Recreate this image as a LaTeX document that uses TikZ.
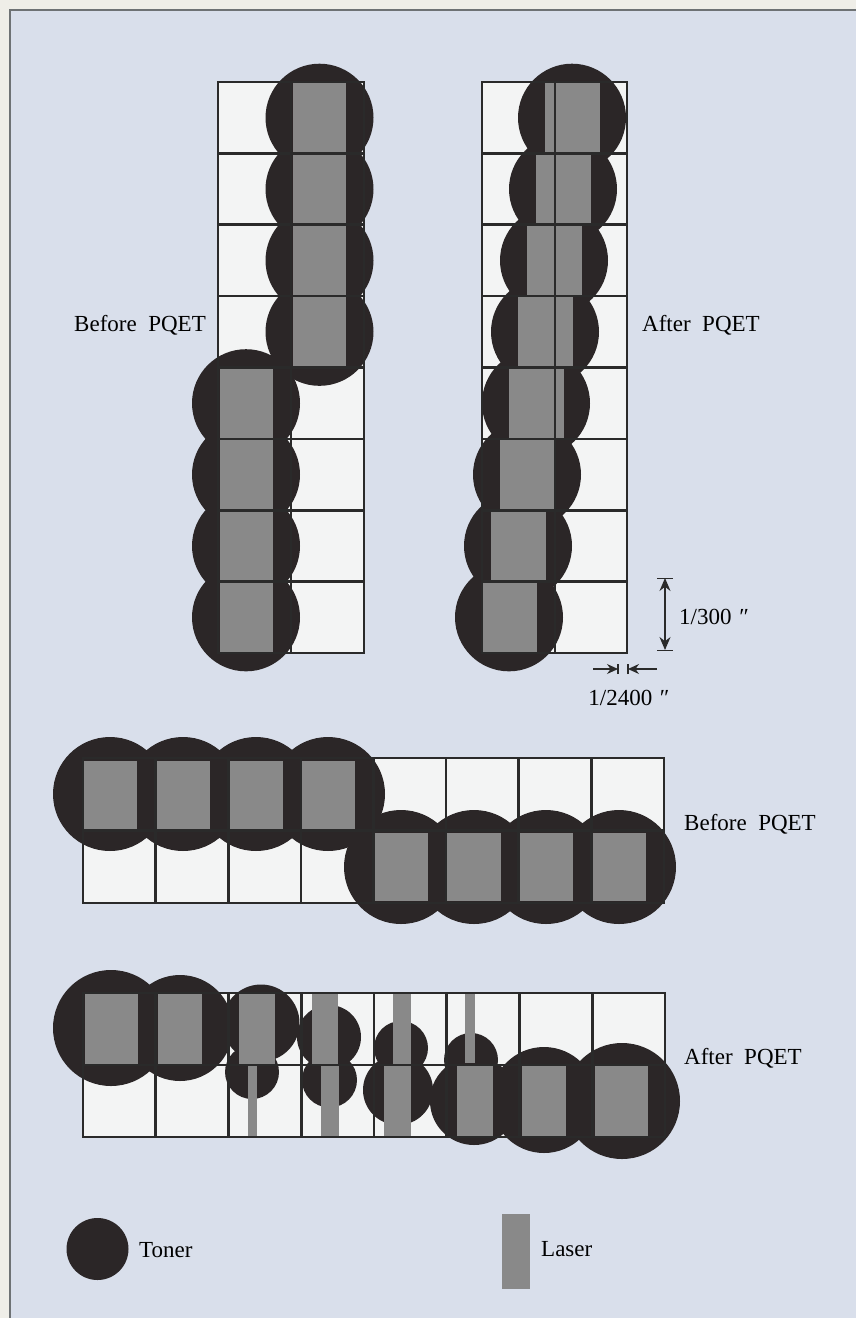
\documentclass[tikz,border=0pt]{standalone}
\usepackage{fontspec}
\setmainfont{Liberation Serif}
\usetikzlibrary{arrows.meta,positioning}
\definecolor{fondo}{HTML}{D9DFEB}
\definecolor{papel}{HTML}{EFEEE8}
\definecolor{marco}{HTML}{6E7274}
\definecolor{celda}{HTML}{F3F4F4}
\definecolor{tonercol}{HTML}{2B2627}
\definecolor{lasercol}{HTML}{898989}
\definecolor{lineacol}{HTML}{2A2A2A}

\begin{document}
\begin{tikzpicture}[x=1pt,y=-1pt,
    toner/.style={fill=tonercol},
    laser/.style={fill=lasercol},
    rejilla/.style={draw=lineacol,line width=2.6pt},
    etiqueta/.style={font=\fontsize{23}{27}\selectfont,inner sep=0pt},
    cota/.style={draw=lineacol,line width=1.1pt}]
  \useasboundingbox (0,0) rectangle (856,1318);
  \def\fila{71.375}

  % Fondo y marco
  \fill[papel] (0,0) rectangle (856,1318);
  \fill[fondo] (10,10) rectangle (856,1318);
  \draw[marco,line width=1.5pt] (10,1318) -- (10,10) -- (856,10);

  % Rejilla vertical, antes de PQET
  \fill[celda] (218,82) rectangle (364,653);
  \foreach \k in {0,...,3} \fill[toner] (319.5,{117.7+\fila*\k}) circle (54);
  \foreach \k in {4,...,7} \fill[toner] (246,{117.7+\fila*\k}) circle (54);
  \foreach \k in {0,...,3} \fill[laser] (293,{82+\fila*\k}) rectangle (346,{82+\fila*(\k+1)});
  \foreach \k in {4,...,7} \fill[laser] (220,{82+\fila*\k}) rectangle (273,{82+\fila*(\k+1)});
  \draw[rejilla] (218,82) rectangle (364,653);
  \draw[rejilla] (291,82) -- (291,653);
  \foreach \k in {1,...,7} \draw[rejilla] (218,{82+\fila*\k}) -- (364,{82+\fila*\k});

  % Rejilla vertical, despues de PQET
  \fill[celda] (482,82) rectangle (627,653);
  \foreach \k in {0,...,7} \fill[toner] ({572-9*\k},{117.7+\fila*\k}) circle (54);
  \foreach \k in {0,...,7} \fill[laser] ({545-9*\k},{82+\fila*\k}) rectangle ({600-9*\k},{82+\fila*(\k+1)});
  \draw[rejilla] (482,82) rectangle (627,653);
  \draw[rejilla] (555,82) -- (555,653);
  \foreach \k in {1,...,7} \draw[rejilla] (482,{82+\fila*\k}) -- (627,{82+\fila*\k});

  % Cotas
  \coordinate (sup) at (665,578);
  \coordinate (inf) at (665,650);
  \draw[cota,{Stealth[length=13pt,width=11pt]}-{Stealth[length=13pt,width=11pt]}] (sup) -- (inf);
  \draw[cota,line width=0.7pt] ([xshift=-8]sup) -- ([xshift=8]sup);
  \draw[cota,line width=0.7pt] ([xshift=-8]inf) -- ([xshift=8]inf);
  \coordinate (barI) at (618,669);
  \coordinate (barD) at (628,669);
  \draw[cota,-{Stealth[length=11pt,width=10pt]}] ([xshift=-25]barI) -- (barI);
  \draw[cota,-{Stealth[length=11pt,width=10pt]}] ([xshift=29]barD) -- (barD);
  \draw[cota,line width=1.8pt] ([yshift=-5]barI) -- ([yshift=5]barI);
  \draw[cota,line width=1.8pt] ([yshift=-5]barD) -- ([yshift=5]barD);
  \node[etiqueta,anchor=west] (c300) at (679,617) {1/300\,\,″};
  \node[etiqueta] (c2400) at (629,698) {1/2400\,\,″};

  % Rejilla horizontal, antes de PQET
  \fill[celda] (83,758) rectangle (664,903);
  \foreach \cx in {110,183,256,328} \fill[toner] (\cx,794) circle (57);
  \foreach \cx in {401,474,546,619} \fill[toner] (\cx,867) circle (57);
  \foreach \cx in {110,183,256,328} \fill[laser] ({\cx-27},761) rectangle ({\cx+27},829);
  \foreach \cx in {401,474,546,619} \fill[laser] ({\cx-27},833) rectangle ({\cx+27},901);
  \draw[rejilla] (83,758) rectangle (664,903);
  \draw[rejilla] (83,830.5) -- (664,830.5);
  \foreach \k in {1,...,7} \draw[rejilla] ({83+72.625*\k},758) -- ({83+72.625*\k},903);

  % Rejilla horizontal, despues de PQET
  \fill[celda] (83,993) rectangle (665,1137);
  \foreach \cx/\cy/\r in {111/1028/58, 180/1028/53, 261/1023/38.5, 252/1072/27,
      329/1037/32, 329.5/1080/27.5, 401/1048/27, 398/1090/35,
      471/1060/27, 474/1101/44, 544/1100/53, 622/1101/58}
    \fill[toner] (\cx,\cy) circle (\r);
  \foreach \xa/\xb/\ya/\yb in {85/138/994/1064, 158/202/994/1064, 239/275/994/1064,
      248/257/1065/1137, 312/338/993/1065, 321/339/1065/1137, 393/411/993/1065,
      384/411/1065/1137, 465/475/993/1063, 457/493/1066/1136, 522/566/1066/1136,
      595/648/1066/1136}
    \fill[laser] (\xa,\ya) rectangle (\xb,\yb);
  \draw[rejilla] (83,993) rectangle (665,1137);
  \draw[rejilla] (83,1065) -- (665,1065);
  \foreach \k in {1,...,7} \draw[rejilla] ({83+72.75*\k},993) -- ({83+72.75*\k},1137);

  % Etiquetas
  \node[etiqueta,anchor=east] (antesV) at (206,325) {Before\ \ PQET};
  \node[etiqueta,anchor=west] (despuesV) at (642,325) {After\ \ PQET};
  \node[etiqueta,anchor=west] (antesH) at (684,824) {Before\ \ PQET};
  \node[etiqueta,anchor=west] (despuesH) at (684,1058) {After\ \ PQET};

  % Leyenda
  \fill[toner] (97.5,1249) circle (31);
  \fill[laser] (502,1214) rectangle (530,1289);
  \node[etiqueta,anchor=west] (toner) at (139,1250) {Toner};
  \node[etiqueta,anchor=west] (laser) at (541,1249) {Laser};
\end{tikzpicture}
\end{document}
